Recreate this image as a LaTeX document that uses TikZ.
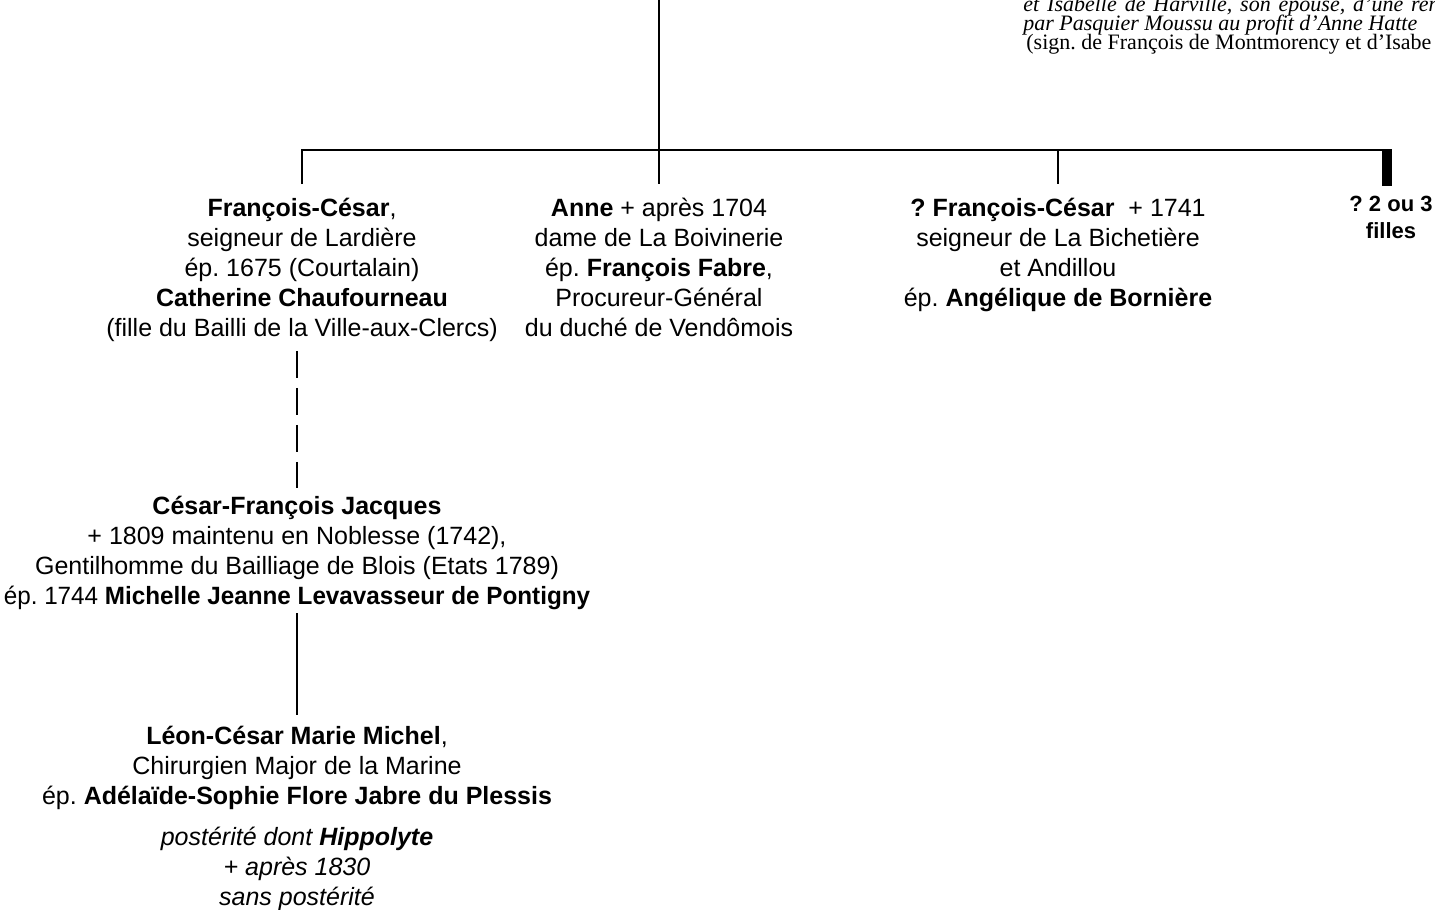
\documentclass[tikz,border=0pt]{standalone}
\usepackage{fontspec}
\setmainfont{Liberation Sans}
\newfontfamily\seriffont{Liberation Serif}
\begin{document}
\frenchspacing
\begin{tikzpicture}[x=0.5pt,y=-0.5pt,
  every node/.style={inner sep=0pt},
  person/.style={align=center, anchor=north, font=\fontsize{12.5}{15}\selectfont\frenchspacing},
  personit/.style={align=center, anchor=north, font=\fontsize{12.5}{15}\selectfont\itshape\frenchspacing},
  small/.style={align=center, anchor=north, font=\fontsize{11}{13.5}\selectfont\bfseries\frenchspacing},
  note/.style={anchor=base west, font=\seriffont\fontsize{11}{9}\selectfont\frenchspacing},
  link/.style={line width=1pt},
  dashlink/.style={line width=1pt, dash pattern=on 13.5pt off 5pt},
  bar/.style={line width=5pt}]
\useasboundingbox (0,0) rectangle (1435,910);
\clip (0,0) rectangle (1435,910);

% note at top right (cut by the frame)
\node[note] (n1) at (1023,11) {\itshape\spaceskip=0.36em et Isabelle de Harville, son épouse, d’une ren};
\node[note] (n2) at (1023,30) {\itshape par Pasquier Moussu au profit d’Anne Hatte};
\node[note] (n3) at (1026,49) {(sign. de François de Montmorency et d’Isabe};

% children
\node[person] (A) at (302,195) {\strut\textbf{François-César},\\ seigneur de Lardière\\ ép. 1675 (Courtalain)\\ \textbf{Catherine Chaufourneau}\\ (fille du Bailli de la Ville-aux-Clercs)};
\node[person] (An) at (659,195) {\strut\textbf{Anne} + après 1704\\ dame de La Boivinerie\\ ép. \textbf{François Fabre},\\ Procureur-Général\\ du duché de Vendômois};
\node[person] (T) at (1058,195) {\strut\textbf{? François-César}\ \ + 1741\\ seigneur de La Bichetière\\ et Andillou\\ ép. \textbf{Angélique de Bornière}};
\node[small] (F) at (1391,192) {\strut ? 2 ou 3\\ filles};

\node[person] (B) at (297,493) {\strut\textbf{César-François Jacques}\\ + 1809 maintenu en Noblesse (1742),\\ Gentilhomme du Bailliage de Blois (Etats 1789)\\ \scalebox{0.97}[1]{ép. 1744 \textbf{Michelle Jeanne Levavasseur de Pontigny}}};
\node[person] (C) at (297,723) {\strut\textbf{Léon-César Marie Michel},\\ Chirurgien Major de la Marine\\ ép. \textbf{Adélaïde-Sophie Flore Jabre du Plessis}};
\node[personit] (D) at (297,824) {\strut postérité dont \textbf{Hippolyte}\\ + après 1830\\ sans postérité};

% connectors
\coordinate (top) at (659,0);
\coordinate (busL) at (302,150);
\coordinate (busR) at (1387,150);
\draw[link, shorten >=5.5pt] (top) -- (An.north);
\draw[link, shorten <=5.5pt] (A.north) -- (busL) -- (busR);
\draw[link, shorten >=5.5pt] (busL -| T.north) -- (T.north);
\draw[bar, shorten >=3pt] ([yshift=0.5pt]busR) -- (busR |- F.north);
\draw[dashlink, shorten <=4.5pt, shorten >=2.5pt] (A.south -| B.north) -- (B.north);
\draw[link, shorten <=1.5pt, shorten >=4pt] (B.south) -- (C.north);
\end{tikzpicture}
\end{document}
